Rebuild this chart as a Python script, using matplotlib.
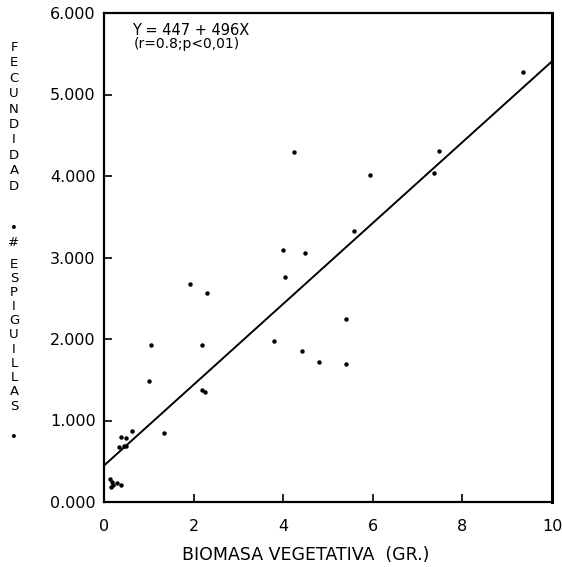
import numpy as np
import matplotlib
matplotlib.use("Agg")
import matplotlib.pyplot as plt
from matplotlib.ticker import FuncFormatter

# Biomasa vegetativa (gr.) vs fecundidad (# espiguillas)
biomasa = [9.35, 7.48, 7.36, 5.94, 4.25,
           5.57, 3.99, 4.48, 4.03,
           1.92, 2.30, 5.40,
           4.42, 4.80, 5.40,
           3.79, 2.19, 1.05, 1.01,
           2.19, 2.26, 1.34, 0.62,
           0.39, 0.48, 0.34, 0.45, 0.50,
           0.13, 0.17, 0.21, 0.28, 0.39, 0.15]
espiguillas = [5280, 4310, 4040, 4010, 4300,
               3330, 3090, 3060, 2760,
               2670, 2560, 2250,
               1850, 1720, 1690,
               1970, 1930, 1930, 1480,
               1380, 1350, 850, 870,
               800, 790, 670, 690, 690,
               280, 240, 210, 230, 210, 180]

# regression Y = a + bX
intercept = 447
slope = 496

x_ticks = [0, 2, 4, 6, 8, 10]
y_ticks = [0, 1000, 2000, 3000, 4000, 5000, 6000]

W, H = 562, 567
fig = plt.figure(figsize=(W / 100, H / 100), dpi=100)
ax = fig.add_axes([104 / W, 65 / H, 448 / W, 489 / H])

ax.plot(biomasa, espiguillas, "o", color="black", markersize=3.2, markeredgewidth=0)

x_line = np.array([0, 10])
ax.plot(x_line, intercept + slope * x_line, color="black", linewidth=1.4)

ax.set_xlim(0, 10)
ax.set_ylim(0, 6000)
ax.set_xticks(x_ticks)
ax.set_yticks(y_ticks)
ax.yaxis.set_major_formatter(FuncFormatter(lambda v, p: "%.3f" % (v / 1000)))
ax.tick_params(direction="in", length=6, width=1.2, labelsize=11.5)
ax.tick_params(axis="x", pad=12)
ax.tick_params(axis="y", pad=6)
for s in ax.spines.values():
    s.set_linewidth(1.6)
ax.spines["right"].set_linewidth(2.2)

ax.set_xlabel("BIOMASA VEGETATIVA  (GR.)", fontsize=12.5, labelpad=4)
ax.xaxis.set_label_coords(0.45, -0.09)

ax.text(0.062, 0.965, "Y = 447 + 496X", transform=ax.transAxes, fontsize=10.5, va="center")
ax.text(0.066, 0.936, "(r=0.8;p<0,01)", transform=ax.transAxes, fontsize=10, va="center")

# stacked vertical y label
letters = []
ys = []
for i, c in enumerate("FECUNDIDAD"):
    letters.append(c)
    ys.append(47.5 + 15.4 * i)
letters += ["•", "#"]
ys += [229, 243]
for i, c in enumerate("ESPIGUILLAS"):
    letters.append(c)
    ys.append(264 + 14.2 * i)
letters.append("•")
ys.append(437)
for c, y in zip(letters, ys):
    fig.text(14 / W, 1 - y / H, c, fontsize=9.5, ha="center", va="center")

fig.savefig("out.png", dpi=100)
